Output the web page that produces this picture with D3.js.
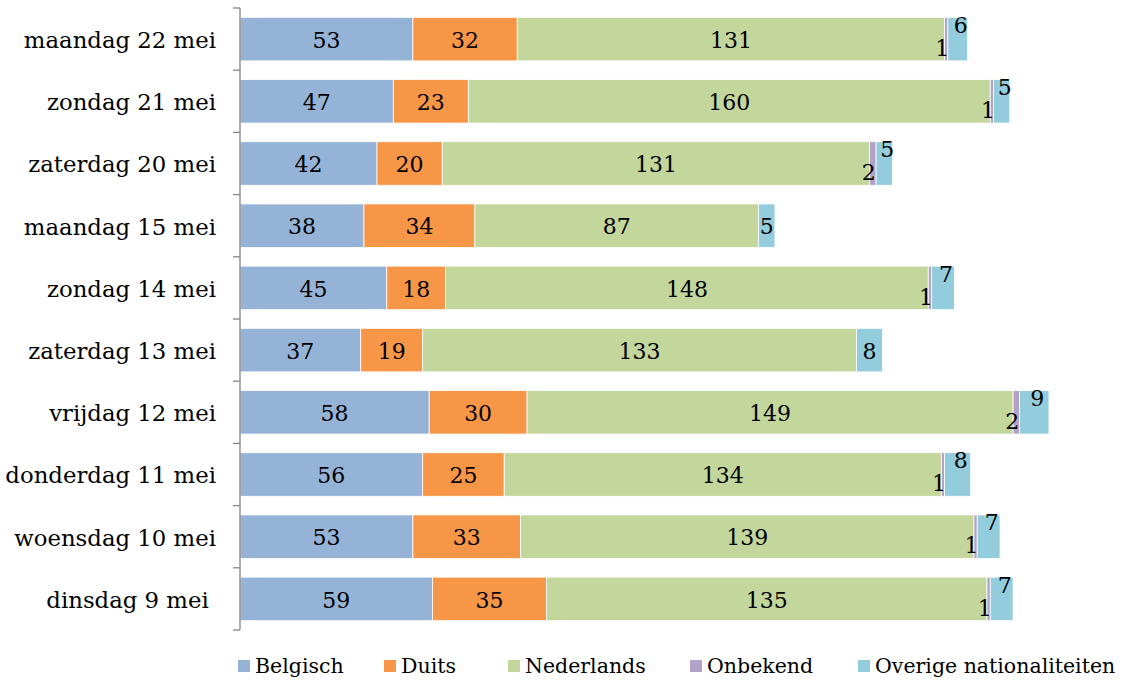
<!DOCTYPE html>
<html>
<head>
<meta charset="utf-8">
<script src="https://cdn.jsdelivr.net/npm/d3@7"></script>
<style>
  body { margin: 0; background: #fff; }
  svg text { font-family: "DejaVu Serif", serif; fill: #000; white-space: pre; }
</style>
</head>
<body>
<div id="chart"></div>
<script>
const days = ['maandag 22 mei', 'zondag 21 mei', 'zaterdag 20 mei', 'maandag 15 mei', 'zondag 14 mei',
	'zaterdag 13 mei', 'vrijdag 12 mei', 'donderdag 11 mei', 'woensdag 10 mei', 'dinsdag 9 mei '];
const series = ['Belgisch', 'Duits', 'Nederlands', 'Onbekend', 'Overige nationaliteiten'];
const belgisch = [53, 47, 42, 38, 45, 37, 58, 56, 53, 59];
const duits = [32, 23, 20, 34, 18, 19, 30, 25, 33, 35];
const nederlands = [131, 160, 131, 87, 148, 133, 149, 134, 139, 135];
const onbekend = [1, 1, 2, 0, 1, 0, 2, 1, 1, 1];
const overige = [6, 5, 5, 5, 7, 8, 9, 8, 7, 7];
const colors = ['#95b3d7', '#f79646', '#c3d69b', '#b3a2c7', '#93cddd'];

const rows = days.map((d, i) => ({
	day: d, Belgisch: belgisch[i], Duits: duits[i], Nederlands: nederlands[i],
	Onbekend: onbekend[i], 'Overige nationaliteiten': overige[i]
}));

const W = 1128, H = 680;
const svg = d3.select("#chart").append("svg")
	.attr("width", W).attr("height", H);

const x = d3.scaleLinear().domain([0, 250]).range([240, 240 + 250 * 3.262]);
const y = d3.scaleBand().domain(days).range([8, 630])
	.paddingInner(0.3).paddingOuter(0.15);

const stack = d3.stack().keys(series)(rows);

const layers = svg.selectAll("g.layer")
	.data(stack)
	.join("g")
	.attr("class", "layer")
	.attr("fill", (d, i) => colors[i]);

layers.selectAll("rect")
	.data(d => d)
	.join("rect")
	.attr("x", d => x(d[0]))
	.attr("y", d => y(d.data.day))
	.attr("width", d => x(d[1]) - x(d[0]))
	.attr("height", y.bandwidth())
	.attr("stroke", "#fff")
	.attr("stroke-width", 0.8);

// value labels
const fs = 22;
stack.forEach((layer, li) => {
	const key = series[li];
	layer.forEach(d => {
		const v = d[1] - d[0];
		if (v === 0) return;
		const cy = y(d.data.day) + y.bandwidth() / 2;
		let cx = (x(d[0]) + x(d[1])) / 2;
		let ty = cy + 1;
		if (key === 'Onbekend') { cx -= 4; ty = cy + 9; }
		if (key === 'Overige nationaliteiten' && d.data.Onbekend > 0) { cx += 3; ty = cy - 14; }
		svg.append("text")
			.attr("x", cx).attr("y", ty)
			.attr("dy", "0.35em")
			.attr("text-anchor", "middle")
			.style("font-size", fs + "px")
			.text(v);
	});
});

// axis
const step = y.step();
const axis = svg.append("g").attr("stroke", "#868686").attr("stroke-width", 1.3);
axis.append("line").attr("x1", 240).attr("x2", 240).attr("y1", 8).attr("y2", 630);
d3.range(days.length + 1).forEach(i => {
	const ty = 8 + i * step;
	axis.append("line").attr("x1", 233).attr("x2", 240).attr("y1", ty).attr("y2", ty);
});

svg.selectAll("text.cat")
	.data(days)
	.join("text")
	.attr("class", "cat")
	.attr("x", 216)
	.attr("y", d => y(d) + y.bandwidth() / 2 + 1)
	.attr("dy", "0.35em")
	.attr("text-anchor", "end")
	.style("font-size", "22.8px")
	.text(d => d);

// legend
const legendX = [238, 384, 508, 690, 858];
const lg = svg.selectAll("g.leg")
	.data(series)
	.join("g")
	.attr("class", "leg")
	.attr("transform", (d, i) => `translate(${legendX[i]},660)`);
lg.append("rect").attr("width", 12).attr("height", 12).attr("fill", (d, i) => colors[i]);
lg.append("text").attr("x", 17).attr("y", 6).attr("dy", "0.35em")
	.style("font-size", "20.5px").text(d => d);
</script>
</body>
</html>
